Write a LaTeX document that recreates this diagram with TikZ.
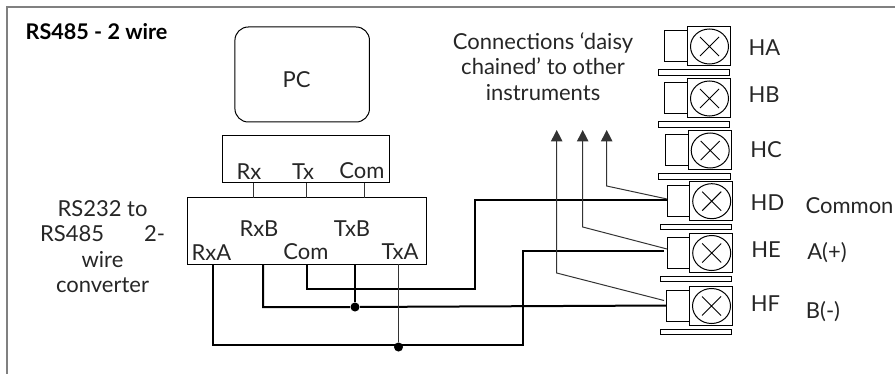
\documentclass[tikz,border=0pt]{standalone}
\usepackage{fontspec}
\setmainfont{Lato}
\usetikzlibrary{shapes.geometric,arrows.meta}

\tikzset{every picture/.style={line width=0.75pt}}
\tikzset{
  thinwire/.style={draw=black!80,line width=0.75pt},
  thickwire/.style={draw=black,line width=1.5pt},
  lab/.style={inner sep=0pt,text=black!85,font=\fontsize{16.5}{19}\selectfont},
  instbox/.style={draw,inner sep=0pt,outer sep=0pt,minimum width=32.25pt,minimum height=29.25pt},
  instterm/.style={draw,inner sep=0pt,outer sep=0pt,minimum width=16.9pt,minimum height=23.25pt},
  instbar/.style={draw,inner sep=0pt,outer sep=0pt,minimum width=53.6pt,minimum height=4.1pt},
  instlens/.style={draw,ellipse,inner sep=0pt,outer sep=0pt,minimum width=28.5pt,minimum height=26.25pt},
  junction/.style={circle,fill=black,inner sep=0pt,minimum size=6.8pt},
  daisyarrow/.style={thinwire,-{Triangle[length=8.5pt,width=8.5pt]}}
}

\begin{document}
\begin{tikzpicture}[x=0.75pt,y=0.75pt,yscale=-1,xscale=1]
\useasboundingbox (0,0) rectangle (895,374);

%Frame
\draw [draw=black!50,line width=1.1pt] (7,374) -- (7,7) -- (895,7);

%PC and converter boxes
\node [draw,rounded corners=10pt,inner sep=0pt,outer sep=0pt,minimum width=100.9pt,minimum height=71.25pt] (pc) at (302.2,74.5) {};
\node [draw,inner sep=0pt,outer sep=0pt,minimum width=125.25pt,minimum height=35.6pt] (port) at (306,159.2) {};
\node [draw,inner sep=0pt,outer sep=0pt,minimum width=178.9pt,minimum height=49.9pt] (conv) at (307.2,231.2) {};

% Text Node
\node [lab,font=\fontsize{16.2}{19}\selectfont\bfseries,text=black] (title) at (96.5,32) {RS485 - 2 wire};
\node [lab] (pclab) at (296.5,80) {PC};
\node [lab] (rx) at (249,172) {Rx};
\node [lab] (tx) at (303,172) {Tx};
\node [lab] (com) at (362,171) {Com};
\node [lab] (rxb) at (259,229) {RxB};
\node [lab] (txb) at (352,229) {TxB};
\node [lab] (rxa) at (211.5,253) {RxA};
\node [lab] (comb) at (306,252) {Com};
\node [lab] (txa) at (400,252) {TxA};
\node [lab,align=center] (convlab) at (102.5,246.5) {RS232 to\\RS485\hspace{30pt}2-\\wire\\converter};
\node [lab,align=center] (daisy) at (543,66.5) {Connections ‘daisy\\chained’ to other\\instruments};
\node [lab] (common) at (849.5,206) {Common};
\node [lab] (aplus) at (827,253) {A(+)};
\node [lab] (bminus) at (823,312) {B(-)};

%Instruments
\foreach \name/\x/\y/\lx/\ly in {HA/708.8/46/764.5/48,HB/708.8/98/764/95,HC/709.5/150/766/150,HD/711/200.7/767.5/202.5,HE/711/252.5/766/250,HF/710.8/305.5/765.5/304}{
  \node [instbox] (box\name) at (\x,\y) {};
  \node [instterm] (term\name) at (\x-32.7,\y) {};
  \node [instbar] (bar\name) at (\x-15,\y+26.3) {};
  \node [instlens] (lens\name) at (\x+0.7,\y+0.5) {};
  \draw (lens\name.center) +(-9.5,-9.5) -- +(9.5,9.5) +(-9.5,9.5) -- +(9.5,-9.5);
  \node [lab] (lab\name) at (\lx,\ly) {\name};
}

%Ticks between port box and converter
\coordinate (tickRx) at (253,190);
\coordinate (tickTx) at (306.5,190);
\coordinate (tickCom) at (364,190);
\foreach \t in {tickRx,tickTx,tickCom}
  \draw [thinwire] (\t |- port.south) -- (\t |- conv.north);

%Wires
\coordinate (pinRxA) at (212.5,300);
\coordinate (pinRxB) at (263,300);
\coordinate (pinCom) at (306.5,300);
\coordinate (pinTxB) at (355,300);
\coordinate (pinTxA) at (398.5,300);
\coordinate (endA) at (664,251);
\node [junction] (dotB) at (355,307) {};
\node [junction] (dotA) at (398.5,347) {};

\draw [thickwire] (pinRxA |- conv.south) -- (212.5,345) -- (522.7,345) -- (522.7,251) -- (endA);
\draw [thickwire] (pinRxB |- conv.south) -- (263,307) -- (dotB) -- (termHF.west);
\draw [thickwire] (pinCom |- conv.south) -- (306.5,289) -- (475,289) -- (475,199.5) -- (termHD.west |- 0,199.5);
\draw [thickwire] (pinTxB |- conv.south) -- (dotB);
\draw [thinwire] (pinTxA |- conv.south) -- (dotA);

%Daisy chain arrows
\coordinate (tipA) at (556.7,130);
\coordinate (tipB) at (582.7,130);
\coordinate (tipC) at (606.7,130);
\draw [daisyarrow] (664,300.5) -- (tipA |- 0,273) -- (tipA);
\draw [daisyarrow] (termHE.west |- 0,249) -- (tipB |- 0,227) -- (tipB);
\draw [daisyarrow] (termHD.west |- 0,199) -- (tipC |- 0,186) -- (tipC);

\end{tikzpicture}
\end{document}
